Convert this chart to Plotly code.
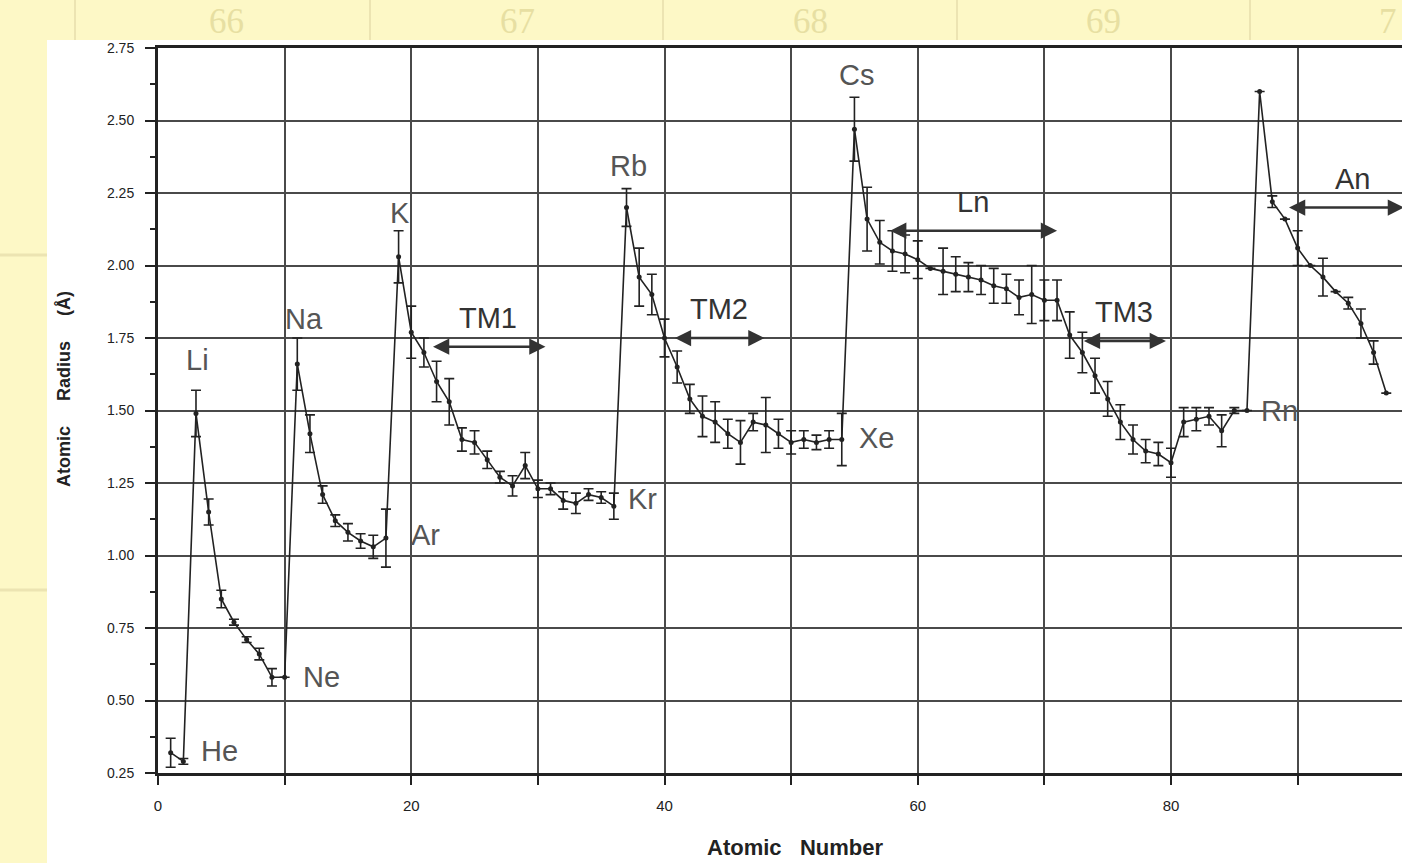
import plotly.graph_objects as go

# ---------------- data ----------------
atomic_number = list(range(1, 98))
radius = [
    0.32, 0.29,
    1.49, 1.15, 0.85, 0.77, 0.71, 0.66, 0.58, 0.58,
    1.66, 1.42, 1.21, 1.12, 1.08, 1.05, 1.03, 1.06,
    2.03, 1.77, 1.70, 1.60, 1.53, 1.40, 1.39, 1.33, 1.27, 1.24, 1.31, 1.23, 1.23, 1.19, 1.18, 1.21, 1.20, 1.17,
    2.20, 1.96, 1.90, 1.75, 1.65, 1.54, 1.48, 1.46, 1.42, 1.39, 1.46, 1.45, 1.42, 1.39, 1.40, 1.39, 1.40, 1.40,
    2.47, 2.16, 2.08, 2.05, 2.04, 2.02, 1.99, 1.98, 1.97, 1.96, 1.95, 1.93, 1.92, 1.89, 1.90, 1.88, 1.88,
    1.76, 1.70, 1.62, 1.54, 1.46, 1.40, 1.36, 1.35, 1.32, 1.46, 1.47, 1.48, 1.43, 1.50, 1.50,
    2.60, 2.22, 2.16, 2.06, 2.00, 1.96, 1.91, 1.87, 1.80, 1.70, 1.56,
]
radius_err = [
    0.05, 0.01,
    0.08, 0.045, 0.03, 0.01, 0.01, 0.02, 0.03, 0.0,
    0.09, 0.065, 0.03, 0.02, 0.03, 0.025, 0.04, 0.10,
    0.09, 0.09, 0.05, 0.07, 0.08, 0.04, 0.04, 0.03, 0.02, 0.035, 0.045, 0.03, 0.02, 0.03, 0.035, 0.02, 0.02, 0.045,
    0.065, 0.10, 0.07, 0.065, 0.055, 0.05, 0.07, 0.07, 0.05, 0.075, 0.03, 0.095, 0.05, 0.04, 0.03, 0.025, 0.03, 0.09,
    0.11, 0.11, 0.075, 0.07, 0.065, 0.065, 0.0, 0.08, 0.06, 0.05, 0.05, 0.06, 0.05, 0.06, 0.10, 0.07, 0.07,
    0.08, 0.07, 0.06, 0.06, 0.06, 0.05, 0.04, 0.04, 0.05, 0.05, 0.04, 0.03, 0.055, 0.01, 0.0,
    0.0, 0.02, 0.0, 0.06, 0.0, 0.065, 0.0, 0.02, 0.05, 0.04, 0.0,
]

label_symbols = ["He", "Li", "Ne", "Na", "Ar", "K", "Kr", "Rb", "Xe", "Cs", "Rn"]
label_z = [2, 3, 10, 11, 18, 19, 36, 37, 54, 55, 86]

block_names = ["TM1", "TM2", "Ln", "TM3", "An"]
block_start = [21.6, 40.7, 57.7, 73.0, 89.2]
block_end = [30.6, 47.9, 71.0, 79.6, 98.4]
block_level = [1.72, 1.75, 2.12, 1.74, 2.20]

y_ticks = [0.25, 0.50, 0.75, 1.00, 1.25, 1.50, 1.75, 2.00, 2.25, 2.50, 2.75]
x_ticks = [0, 20, 40, 60, 80]

bg_numbers = ["66", "67", "68", "69", "7"]

# ---------------- geometry helpers (pixel -> paper) ----------------
W, H = 1402, 863
L, R, T, B = 158, 0, 48, 90
PW, PH = W - L - R, H - T - B


def px(x):
    return (x - L) / PW


def py(y):
    return (H - B - y) / PH


# label offsets in pixels (style only)
label_offsets = {
    "He": (36, 10), "Li": (2, 53), "Ne": (37, 0), "Na": (7, 45), "Ar": (40, 3),
    "K": (1, 44), "Kr": (29, 7), "Rb": (2, 42), "Xe": (35, 2), "Cs": (2, 54), "Rn": (33, 0),
}

ink = "#222222"
fig = go.Figure()
fig.add_trace(go.Scatter(
    x=atomic_number, y=radius, mode="lines+markers",
    line=dict(color=ink, width=1.6),
    marker=dict(color=ink, size=5),
    error_y=dict(type="data", array=radius_err, visible=True, color=ink, thickness=1.6, width=5),
    showlegend=False, hoverinfo="x+y",
))

annotations = []
for sym, z in zip(label_symbols, label_z):
    dx, dy = label_offsets[sym]
    annotations.append(dict(
        x=z, y=radius[z - 1], xref="x", yref="y", text=sym, showarrow=False,
        xanchor="center", yanchor="middle",
        xshift=dx, yshift=dy, font=dict(family="Liberation Sans, Arial", size=29, color="#555555"),
    ))

for name, s, e, lv in zip(block_names, block_start, block_end, block_level):
    annotations.append(dict(
        x=e, y=lv, ax=s, ay=lv, xref="x", yref="y", axref="x", ayref="y",
        text="", showarrow=True, arrowhead=2, arrowside="end+start",
        arrowsize=1.25, arrowwidth=2.6, arrowcolor="#333333",
    ))
    annotations.append(dict(
        x=(s + e) / 2 if name != "An" else 94.3, y=lv, xref="x", yref="y", text=name,
        showarrow=False, yshift=29, xanchor="center", yanchor="middle",
        font=dict(family="Liberation Sans, Arial", size=29, color="#333333"),
    ))

sp = "&nbsp;" * 5
# axis titles
annotations.append(dict(
    x=px(64), y=py(389), xref="paper", yref="paper", xanchor="center", yanchor="middle",
    text=f"<b>Atomic{sp}Radius{sp}(Å)</b>",
    textangle=-90, showarrow=False, font=dict(family="Liberation Sans, Arial", size=18, color=ink),
))
annotations.append(dict(
    x=px(795), y=py(862), xref="paper", yref="paper", xanchor="center", yanchor="bottom",
    text="<b>Atomic&nbsp;&nbsp;&nbsp;Number</b>",
    showarrow=False, font=dict(family="Liberation Sans, Arial", size=22, color=ink),
))

# faint background periodic-table numbers
for t, xc in zip(bg_numbers, [226, 517, 810, 1103, 1388]):
    annotations.append(dict(
        x=px(xc), y=py(0), xref="paper", yref="paper", xanchor="center", yanchor="top", text=t,
        showarrow=False, font=dict(family="Liberation Serif, serif", size=35, color="#E7DFA2"),
    ))

shapes = [
    dict(type="rect", xref="paper", yref="paper", x0=px(47), x1=px(W + 20), y0=py(40), y1=py(H + 20),
         fillcolor="white", line=dict(width=0), layer="below"),
]
for xl in [75, 370, 663, 957, 1250]:
    shapes.append(dict(type="line", xref="paper", yref="paper", x0=px(xl), x1=px(xl), y0=py(0), y1=py(40),
                       line=dict(color="#ECE4B2", width=2), layer="below"))
for yl in [255, 590]:
    shapes.append(dict(type="line", xref="paper", yref="paper", x0=px(0), x1=px(47), y0=py(yl), y1=py(yl),
                       line=dict(color="#ECE4B2", width=3), layer="below"))

fig.update_layout(
    width=W, height=H,
    margin=dict(l=L, r=R, t=T, b=B, pad=0),
    paper_bgcolor="#FDF8C6", plot_bgcolor="white",
    font=dict(family="Liberation Sans, Arial", color=ink),
    annotations=annotations, shapes=shapes,
    xaxis=dict(
        range=[0, PW / 12.6625], tickvals=x_ticks, ticktext=[str(v) for v in x_ticks],
        showgrid=True, gridcolor="#4a4a4a", gridwidth=1.5,
        minor=dict(dtick=10, tick0=0, showgrid=True, gridcolor="#4a4a4a", gridwidth=1.5,
                   ticks="outside", ticklen=9, tickcolor=ink, tickwidth=1.5),
        ticks="outside", ticklen=9, tickwidth=1.5, tickcolor=ink,
        showline=True, linecolor=ink, linewidth=3, mirror=True,
        tickfont=dict(size=15, color=ink), zeroline=False, ticklabelstandoff=8,
    ),
    yaxis=dict(
        range=[0.25, 2.75], tickvals=y_ticks, ticktext=[f"{v:.2f}" for v in y_ticks],
        showgrid=True, gridcolor="#4a4a4a", gridwidth=1.5,
        minor=dict(dtick=0.125, tick0=0.25, showgrid=False, ticks="outside", ticklen=5,
                   tickcolor=ink, tickwidth=1.5),
        ticks="outside", ticklen=10, tickwidth=1.5, tickcolor=ink,
        showline=True, linecolor=ink, linewidth=3, mirror=False,
        tickfont=dict(size=14, color=ink), zeroline=False, ticklabelstandoff=8,
    ),
)

fig.write_html(
    "out.html",
    config={"displayModeBar": False},
    post_script="document.body.style.margin='0';document.body.style.overflow='hidden';",
)
